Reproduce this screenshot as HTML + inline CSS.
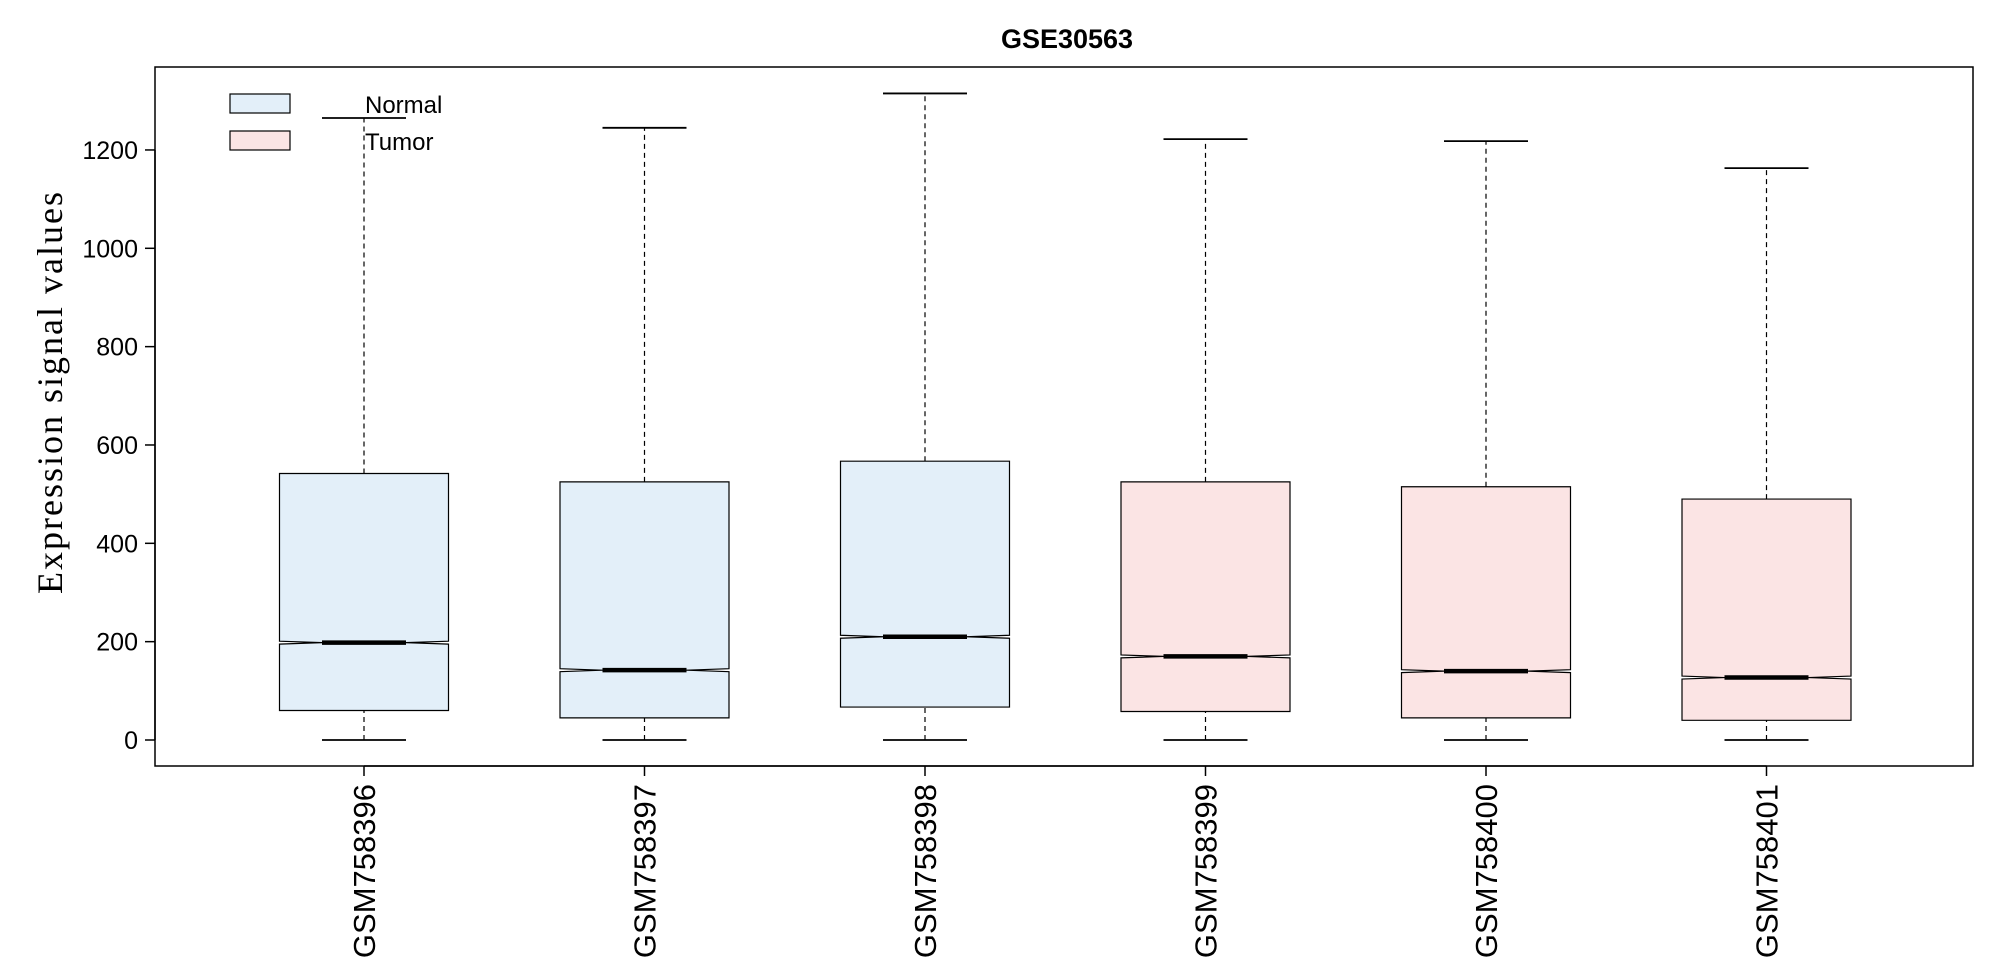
<!DOCTYPE html>
<html><head><meta charset="utf-8"><style>
html,body{margin:0;padding:0;background:#fff;}
svg{display:block;}
text{font-family:"Liberation Sans",Arial,sans-serif;}
</style></head><body>
<svg id="chart" width="2008" height="961" viewBox="0 0 2008 961" xmlns="http://www.w3.org/2000/svg">
<text x="1067" y="48" text-anchor="middle" font-size="27" font-weight="bold">GSE30563</text>
<rect x="155" y="67" width="1818" height="699" fill="none" stroke="#000" stroke-width="1.5"/>
<text transform="translate(62,392) rotate(-90)" text-anchor="middle" font-size="36" style="font-family:'Liberation Serif',serif;letter-spacing:2px">Expression signal values</text>
<g id="yaxis"></g>
<g id="boxes"></g>
<g id="xaxis"></g>
<g>
<rect x="230" y="94" width="60" height="19" fill="#E3EFF9" stroke="#000" stroke-width="1.2"/>
<text x="365" y="113" font-size="24">Normal</text>
<rect x="230" y="131" width="60" height="19" fill="#FBE4E4" stroke="#000" stroke-width="1.2"/>
<text x="365" y="150" font-size="24">Tumor</text>
</g>
</svg>
<script>
const categories=["GSM758396","GSM758397","GSM758398","GSM758399","GSM758400","GSM758401"];
const groups=["Normal","Normal","Normal","Tumor","Tumor","Tumor"];
const mins=[0,0,0,0,0,0];
const q1s=[60,45,67,58,45,40];
const medians=[198,142,210,170,140,127];
const q3s=[542,525,567,525,515,490];
const maxs=[1265,1245,1315,1222,1218,1163];
const notchHalf=[3,3,3,3,3,3];
const yTicks=[0,200,400,600,800,1000,1200];

const NS="http://www.w3.org/2000/svg";
const y=v=>740-v*0.4917;
const x=i=>364+i*280.5;
const fills={Normal:"#E3EFF9",Tumor:"#FBE4E4"};
function mk(tag,attrs,parent){const e=document.createElementNS(NS,tag);for(const k in attrs)e.setAttribute(k,attrs[k]);parent.appendChild(e);return e;}
const ya=document.getElementById('yaxis');
const l=mk('line',{x1:155,x2:155,y1:y(0),y2:y(1200),stroke:'#000','stroke-width':1.5},ya);


yTicks.forEach(t=>{
 const tk=mk('line',{x1:145,x2:155,y1:y(t),y2:y(t),stroke:'#000','stroke-width':1.5},ya);
 
 
 const tx=mk('text',{x:138,y:y(t)+9,'text-anchor':'end','font-size':25},ya);
 
 
 tx.textContent=t;
});
const bx=document.getElementById('boxes');
const xa=document.getElementById('xaxis');
const hw=84.5,cap=42,nw=42;
categories.forEach((c,i)=>{
 const cx=x(i);
 const g=mk('g',{},bx);
 
 
 const w1=mk('line',{x1:cx,x2:cx,y1:y(q3s[i]),y2:y(maxs[i]),stroke:'#000','stroke-width':1.2,'stroke-dasharray':'5,4'},g);
 
 
 const w2=mk('line',{x1:cx,x2:cx,y1:y(mins[i]),y2:y(q1s[i]),stroke:'#000','stroke-width':1.2,'stroke-dasharray':'5,4'},g);
 
 
 [maxs[i],mins[i]].forEach(v=>{
  const cp=mk('line',{x1:cx-cap,x2:cx+cap,y1:y(v),y2:y(v),stroke:'#000','stroke-width':1.8},g);
  
  
 });
 const m=medians[i],n=notchHalf[i];
 const pts=[[cx-hw,y(q1s[i])],[cx-hw,y(m-n)],[cx-nw,y(m)],[cx-hw,y(m+n)],[cx-hw,y(q3s[i])],[cx+hw,y(q3s[i])],[cx+hw,y(m+n)],[cx+nw,y(m)],[cx+hw,y(m-n)],[cx+hw,y(q1s[i])]];
 const p=mk('polygon',{points:pts.map(q=>q.join(',')).join(' '),fill:fills[groups[i]],stroke:'#000','stroke-width':1.2},g);
 
 
 const md=mk('line',{x1:cx-nw,x2:cx+nw,y1:y(m),y2:y(m),stroke:'#000','stroke-width':4.5},g);
 
 
 const tk=mk('line',{x1:cx,x2:cx,y1:766,y2:776,stroke:'#000','stroke-width':1.5},xa);
 
 
 const tx=mk('text',{transform:`translate(${cx+11},784) rotate(-90)`,'text-anchor':'end','font-size':31},xa);
 
 
 tx.textContent=c;
});
const xl=mk('line',{x1:x(0),x2:x(5),y1:766,y2:766,stroke:'#000','stroke-width':1.5},xa);


</script>
</body></html>
